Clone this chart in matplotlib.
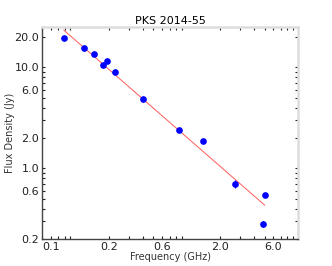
import numpy as np
import matplotlib
matplotlib.use("Agg")
from matplotlib import pyplot as plt
from matplotlib.ticker import FixedLocator, FormatStrFormatter

# measured flux densities of PKS 2014-55
freq_ghz = [0.0785, 0.118, 0.148, 0.178, 0.193, 0.226, 0.408, 0.843, 1.4, 2.7, 5.0, 4.85]
flux_jy = [19.4, 15.5, 13.6, 10.5, 11.6, 9.06, 4.86, 2.38, 1.85, 0.706, 0.542, 0.283]
flux_err = [0.3, 0.25, 0.2, 0.2, 0.2, 0.15, 0.08, 0.05, 0.04, 0.06, 0.02, 0.02]

# power-law fit: S = s1 * nu^alpha
fit_s1 = 2.03
fit_alpha = -0.96

xticks = [0.06, 0.2, 0.6, 2.0, 6.0]
yticks = [0.2, 0.6, 1.0, 2.0, 6.0, 10.0, 20.0]

fig = plt.figure(figsize=(3.32, 2.66), dpi=100)
ax = fig.add_axes([0.1265, 0.1015, 0.7715, 0.7965])

nu = np.linspace(min(freq_ghz), max(freq_ghz), 100)
ax.plot(nu, fit_s1 * nu ** fit_alpha, color="#ff5a5a", lw=0.7, zorder=2)
ax.errorbar(freq_ghz, flux_jy, yerr=flux_err, fmt="o", color="blue", ms=3.8,
            elinewidth=0.8, capsize=0, zorder=3)

ax.set_xscale("log")
ax.set_yscale("log")
ax.set_xlim(0.05, 10)
ax.set_ylim(0.2, 25)

ax.xaxis.set_major_locator(FixedLocator(xticks))
ax.yaxis.set_major_locator(FixedLocator(yticks))
ax.xaxis.set_major_formatter(FormatStrFormatter("%.1f"))
ax.yaxis.set_major_formatter(FormatStrFormatter("%.1f"))
ax.xaxis.set_minor_formatter(plt.NullFormatter())
ax.yaxis.set_minor_formatter(plt.NullFormatter())

ax.tick_params(which="both", direction="in", top=True, right=True,
               length=2.5, width=0.8, labelsize=8, pad=2, colors="#222222")
for side in ["left", "bottom"]:
    ax.spines[side].set_color("#444444")
    ax.spines[side].set_linewidth(1.0)
for side in ["top", "right"]:
    ax.spines[side].set_color("#dddddd")
    ax.spines[side].set_linewidth(1.8)

ax.set_title("PKS 2014-55", fontsize=8, pad=2)
ax.set_xlabel("Frequency (GHz)", fontsize=7, color="#333333", labelpad=0)
ax.set_ylabel("Flux Density (Jy)", fontsize=7, color="#333333")
ax.yaxis.set_label_coords(-0.105, 0.5)

plt.savefig("out.png", dpi=100)
